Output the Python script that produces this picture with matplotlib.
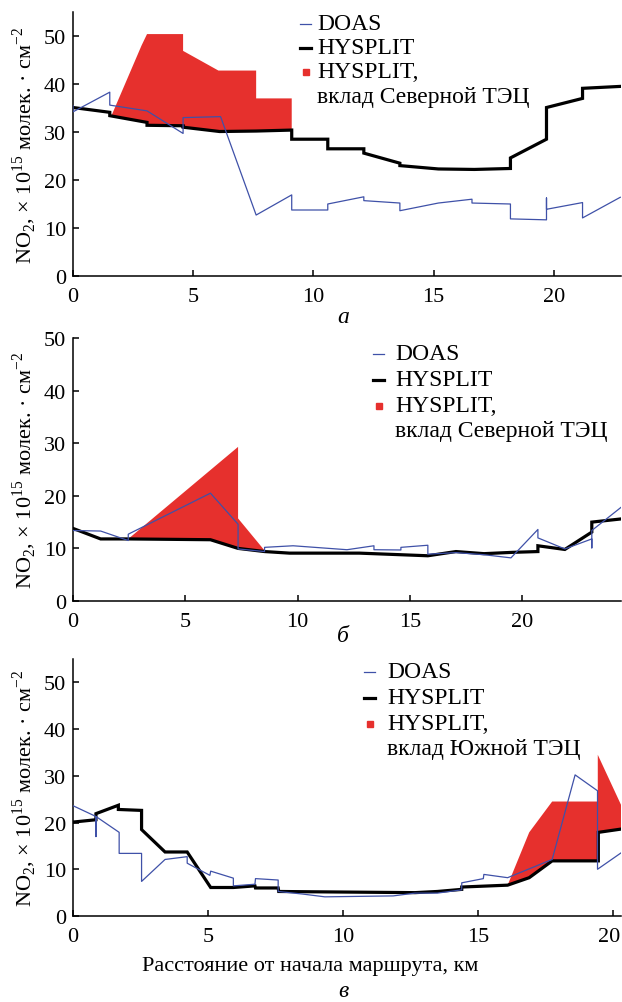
import numpy as np
import matplotlib
matplotlib.use("Agg")
import matplotlib.pyplot as plt
from matplotlib.transforms import ScaledTranslation

plt.rcParams['font.family'] = ['Liberation Serif', 'DejaVu Serif']
plt.rcParams['mathtext.fontset'] = 'custom'
plt.rcParams['mathtext.rm'] = 'Liberation Serif'

# ---------------- Panel a ----------------
a_doas_x = [0, 0, 1.53, 1.53, 3.08, 4.58, 4.58, 6.14, 7.62, 9.1, 9.1, 10.6, 10.6,
            12.1, 12.1, 13.6, 13.6, 15.2, 16.6, 16.6, 18.2, 18.2, 19.7, 19.7, 19.7,
            21.2, 21.2, 22.77]
a_doas_y = [35.5, 34.2, 38.3, 35.6, 34.4, 29.7, 33.0, 33.2, 12.7, 16.9, 13.75, 13.75, 15.0,
            16.5, 15.7, 15.2, 13.6, 15.2, 16.0, 15.2, 15.0, 11.9, 11.7, 16.25, 13.9,
            15.3, 12.1, 16.4]
a_hys_x = [0, 1.53, 1.53, 3.08, 3.08, 4.58, 4.58, 6.1, 7.62, 9.1, 9.1, 10.6, 10.6,
           12.1, 12.1, 13.6, 13.6, 15.2, 16.7, 18.2, 18.2, 19.7, 19.7, 21.2, 21.2, 22.77]
a_hys_y = [35.1, 34.1, 33.4, 32.0, 31.4, 31.3, 31.0, 30.1, 30.2, 30.4, 28.5, 28.5, 26.5,
           26.5, 25.6, 23.5, 23.0, 22.3, 22.2, 22.4, 24.6, 28.5, 35.1, 37.0, 39.1, 39.5]
a_red_top_x = [1.6, 2.85, 3.08, 4.58, 4.58, 6.05, 7.62, 7.62, 9.1, 9.1]
a_red_top_y = [33.4, 48.0, 50.4, 50.4, 46.9, 42.8, 42.8, 37.0, 37.0, 30.4]
a_red_bot_x = [1.6, 3.08, 3.08, 4.58, 4.58, 6.1, 7.62, 9.1]
a_red_bot_y = [33.3, 32.0, 31.4, 31.3, 31.0, 30.1, 30.2, 30.4]

# ---------------- Panel b ----------------
b_doas_x = [0, 1.23, 2.46, 2.46, 6.12, 7.35, 7.35, 8.53, 8.53, 9.8, 12.2, 13.4, 13.4,
            14.6, 14.6, 15.8, 15.8, 17.05, 18.3, 19.5, 20.7, 20.7, 21.9, 23.1, 23.1,
            23.1, 24.4]
b_doas_y = [13.4, 13.3, 11.5, 12.7, 20.5, 14.6, 9.9, 9.4, 10.2, 10.5, 9.75, 10.5, 9.75,
            9.7, 10.2, 10.6, 8.9, 9.2, 8.8, 8.2, 13.6, 12.0, 9.9, 11.8, 10.1,
            13.4, 17.8]
b_hys_x = [0, 1.23, 2.46, 6.12, 7.35, 8.53, 9.64, 12.75, 15.8, 17.05, 18.3, 19.57,
           20.7, 20.7, 21.9, 23.1, 23.1, 24.4]
b_hys_y = [13.8, 11.8, 11.8, 11.65, 10.0, 9.4, 9.1, 9.1, 8.6, 9.4, 9.0, 9.25,
           9.4, 10.5, 9.8, 13.1, 15.0, 15.6]
b_red_top_x = [2.46, 7.35, 7.35, 8.53]
b_red_top_y = [11.8, 29.3, 15.7, 9.6]
b_red_bot_x = [2.46, 6.12, 7.35, 8.53]
b_red_bot_y = [11.8, 11.65, 10.0, 9.4]

# ---------------- Panel c ----------------
c_doas_x = [0, 0.85, 0.85, 0.85, 1.71, 1.71, 2.54, 2.54, 3.41, 4.23, 4.23, 5.07, 5.1,
            5.94, 5.94, 6.74, 6.76, 7.6, 7.6, 8.5, 9.33, 11.86, 12.67, 13.5, 14.4, 14.4,
            15.2, 15.22, 16.1, 17.75, 18.6, 19.43, 19.43, 20.3]
c_doas_y = [23.6, 21.3, 17.0, 21.3, 17.9, 13.4, 13.4, 7.4, 12.1, 12.7, 11.3, 8.7, 9.6,
            8.1, 6.45, 6.8, 8.0, 7.7, 5.25, 4.7, 4.1, 4.3, 4.9, 4.9, 5.6, 7.1,
            8.0, 8.9, 8.2, 12.1, 30.2, 26.8, 10.0, 13.5]
c_hys_x = [0, 0.85, 0.85, 1.68, 1.68, 2.54, 2.54, 3.41, 4.23, 5.1, 5.94, 6.74, 6.76,
           7.6, 7.62, 8.5, 12.67, 13.5, 14.4, 14.4, 16.1, 16.9, 17.75, 19.46, 19.46, 20.3]
c_hys_y = [20.1, 20.6, 21.9, 23.7, 22.8, 22.6, 18.5, 13.7, 13.7, 6.1, 6.1, 6.45, 6.0,
           6.0, 5.25, 5.2, 5.0, 5.25, 5.7, 6.2, 6.6, 8.2, 11.8, 11.8, 17.9, 18.6]
c_red_top_x = [16.1, 16.9, 17.75, 19.44, 19.44, 20.3]
c_red_top_y = [6.6, 17.9, 24.5, 24.5, 34.5, 23.8]
c_red_bot_x = [16.1, 16.9, 17.75, 19.44, 19.44, 20.3]
c_red_bot_y = [6.6, 8.2, 11.8, 11.8, 17.9, 18.6]

x_ticks = [0, 5, 10, 15, 20]
y_ticks = [0, 10, 20, 30, 40, 50]
labels_a = ["DOAS", "HYSPLIT", "HYSPLIT,", "вклад Северной ТЭЦ"]
labels_c = ["DOAS", "HYSPLIT", "HYSPLIT,", "вклад Южной ТЭЦ"]
panel_letters = ["а", "б", "в"]
ylabel = r"NO$_2$, × 10$^{15}$ молек. · см$^{-2}$"
xlabel = "Расстояние от начала маршрута, км"

BLUE = '#3f51a8'
RED = '#e6302d'
W, H = 622, 1003
FS = 16
FS_LEG = 17

fig = plt.figure(figsize=(W / 100, H / 100), dpi=100)


def add_axes(top, bottom, left=73, right=621):
    return fig.add_axes([left / W, 1 - bottom / H, (right - left) / W, (bottom - top) / H])


def style(ax, xmax, ymax):
    ax.set_xlim(0, xmax)
    ax.set_ylim(0, ymax)
    ax.set_xticks(x_ticks)
    ax.set_yticks(y_ticks)
    for s in ['top', 'right']:
        ax.spines[s].set_visible(False)
    for s in ['left', 'bottom']:
        ax.spines[s].set_linewidth(1.1)
    ax.tick_params(axis='x', direction='in', length=4, width=1.1, labelsize=FS, pad=8)
    ax.tick_params(axis='y', direction='in', length=4, width=1.1, labelsize=FS, pad=5)
    ax.set_ylabel(ylabel, fontsize=FS, labelpad=4)


def draw(ax, dx, dy, hx, hy, rtx, rty, rbx, rby):
    px = list(rtx) + list(rbx)[::-1]
    py = list(rty) + list(rby)[::-1]
    ax.fill(px, py, color=RED, lw=0, zorder=1)
    ax.plot(hx, hy, color='black', lw=2.3, zorder=2, solid_joinstyle='miter')
    ax.plot(dx, dy, color=BLUE, lw=0.9, zorder=3)


def legend(x_handle, x_text, rows_y, labels, fs=FS_LEG):
    tf = fig.transFigure
    def fy(p):
        return 1 - p / H
    fig.lines.append(plt.Line2D([x_handle / W, (x_handle + 11) / W], [fy(rows_y[0])] * 2,
                                color=BLUE, lw=0.9, transform=tf))
    fig.lines.append(plt.Line2D([x_handle / W, (x_handle + 11) / W], [fy(rows_y[1])] * 2,
                                color='black', lw=2.3, transform=tf))
    fig.lines.append(plt.Line2D([(x_handle + 5.5) / W], [fy(rows_y[2])], marker='s',
                                markersize=4.5, color=RED, lw=0, transform=tf))
    for yy, lab in zip(rows_y, labels):
        fig.text(x_text / W, fy(yy), lab, fontsize=fs, va='center', ha='left')


ax1 = add_axes(13, 277)
style(ax1, 22.8, 55)
draw(ax1, a_doas_x, a_doas_y, a_hys_x, a_hys_y, a_red_top_x, a_red_top_y, a_red_bot_x, a_red_bot_y)
legend(300, 317, [25, 49, 73, 97], labels_a)
fig.text(343 / W, 1 - 318 / H, panel_letters[0], fontsize=FS + 1, style='italic', ha='center', va='center')

ax2 = add_axes(339, 602)
style(ax2, 24.4, 50)
draw(ax2, b_doas_x, b_doas_y, b_hys_x, b_hys_y, b_red_top_x, b_red_top_y, b_red_bot_x, b_red_bot_y)
legend(373, 395, [355, 381, 407, 432], labels_a)
fig.text(343 / W, 1 - 637 / H, panel_letters[1], fontsize=FS + 1, style='italic', ha='center', va='center')

ax3 = add_axes(660, 917)
style(ax3, 20.3, 55)
draw(ax3, c_doas_x, c_doas_y, c_hys_x, c_hys_y, c_red_top_x, c_red_top_y, c_red_bot_x, c_red_bot_y)
legend(364, 387, [673, 699, 725, 750], labels_c)
ax3.set_xlabel(xlabel, fontsize=FS)
ax3.xaxis.set_label_coords((310 - 73) / 548, -(957 - 917) / 257)
fig.text(343 / W, 1 - 992 / H, panel_letters[2], fontsize=FS + 1, style='italic', ha='center', va='center')

# keep the last x tick label of panel c inside the figure
last = ax3.get_xticklabels()[-1]
last.set_transform(last.get_transform() + ScaledTranslation(-4 / 100, 0, fig.dpi_scale_trans))

fig.savefig("out.png", dpi=100)
